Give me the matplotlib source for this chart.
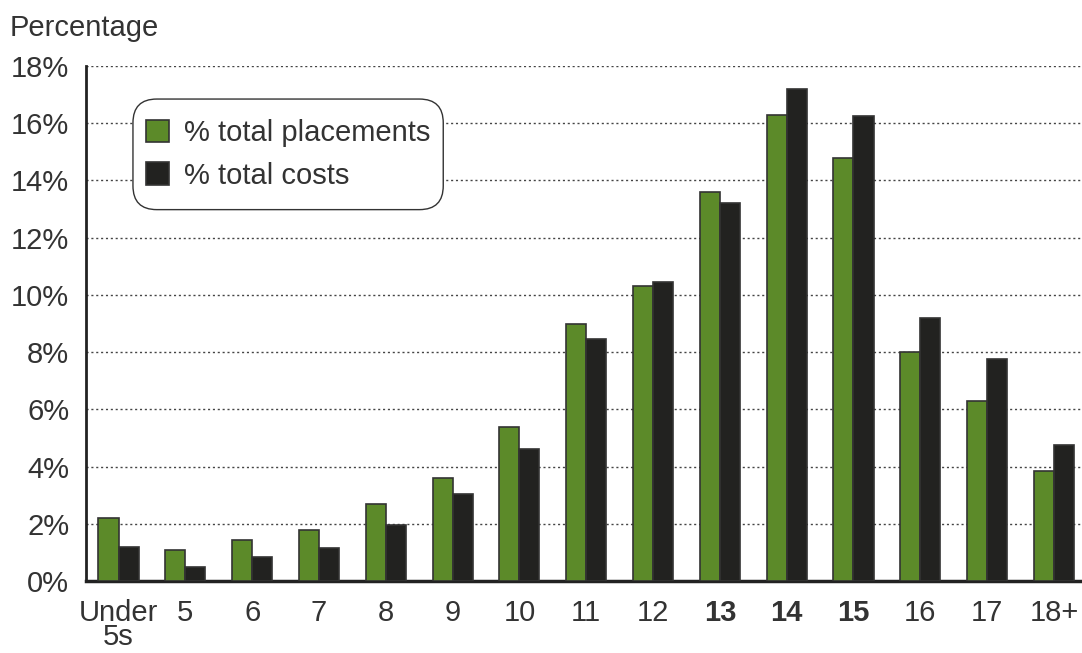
import numpy as np
import matplotlib.pyplot as plt
from matplotlib.patches import FancyBboxPatch

categories = ['Under\n5s', '5', '6', '7', '8', '9', '10', '11', '12', '13', '14', '15', '16', '17', '18+']
bold_labels = ['13', '14', '15']
placements = [2.2, 1.1, 1.45, 1.8, 2.7, 3.6, 5.4, 9.0, 10.3, 13.6, 16.3, 14.8, 8.0, 6.3, 3.85]
costs = [1.2, 0.5, 0.85, 1.15, 1.95, 3.05, 4.6, 8.45, 10.45, 13.2, 17.2, 16.25, 9.2, 7.75, 4.75]
yticks = [0, 2, 4, 6, 8, 10, 12, 14, 16, 18]

green = '#5c8a29'
dark = '#222220'
text_col = '#333333'

plt.rcParams['font.family'] = ['Liberation Sans', 'DejaVu Sans']

fig = plt.figure(figsize=(10.82, 6.53), dpi=100)
ax = fig.add_axes([86 / 1082, 72 / 653, 1 - 86 / 1082, 515 / 653])

x = np.arange(len(categories))
w = 0.3
ax.bar(x - w / 2, placements, w, color=green, edgecolor='#333333', linewidth=1.2,
       label='% total placements', zorder=3)
ax.bar(x + w / 2, costs, w, color=dark, edgecolor='#333333', linewidth=1.2,
       label='% total costs', zorder=3)

ax.set_xlim(-0.487, 14.42)
ax.set_ylim(0, 18)
ax.set_yticks(yticks)
ax.set_yticklabels([f'{v}%' for v in yticks])
ax.set_xticks(x)
ax.set_xticklabels(categories, linespacing=0.82)
for lbl in ax.get_xticklabels():
    if lbl.get_text() in bold_labels:
        lbl.set_fontweight('bold')
ax.tick_params(axis='both', length=0, labelsize=21, labelcolor=text_col)
ax.tick_params(axis='y', pad=12)
ax.tick_params(axis='x', pad=13)

ax.yaxis.grid(True, linestyle=(0, (1.5, 2)), color='#444444', linewidth=1.0, zorder=0)
ax.set_axisbelow(True)
for s in ['top', 'right']:
    ax.spines[s].set_visible(False)
ax.spines['left'].set_linewidth(2)
ax.spines['bottom'].set_linewidth(2.5)
ax.spines['left'].set_color('#222222')
ax.spines['bottom'].set_color('#222222')

fig.text(10 / 1082, 1 - 28 / 653, 'Percentage', fontsize=21, color=text_col,
         ha='left', va='center')

# legend without frame, rounded box drawn around it afterwards
leg = ax.legend(loc='upper left', bbox_to_anchor=(0.0602, 0.897), borderaxespad=0,
                fontsize=21, frameon=False, handlelength=0.8,
                handleheight=0.8, handletextpad=0.5, labelspacing=0.5,
                borderpad=0, labelcolor=text_col)
leg.set_zorder(5)

fig.canvas.draw()
bb = leg.get_window_extent().transformed(fig.transFigure.inverted())
padx, pady = 13 / 1082, 20 / 653
box = FancyBboxPatch((bb.x0 - padx, bb.y0 - pady), bb.width + 2 * padx, bb.height + 2 * pady,
                     boxstyle='round,pad=0,rounding_size=0.022', transform=fig.transFigure,
                     facecolor='white', edgecolor='#333333', linewidth=1.0, zorder=4,
                     mutation_aspect=1082 / 653)
ax.add_artist(box)
box.set_clip_on(False)

fig.savefig('out.png', dpi=100)
